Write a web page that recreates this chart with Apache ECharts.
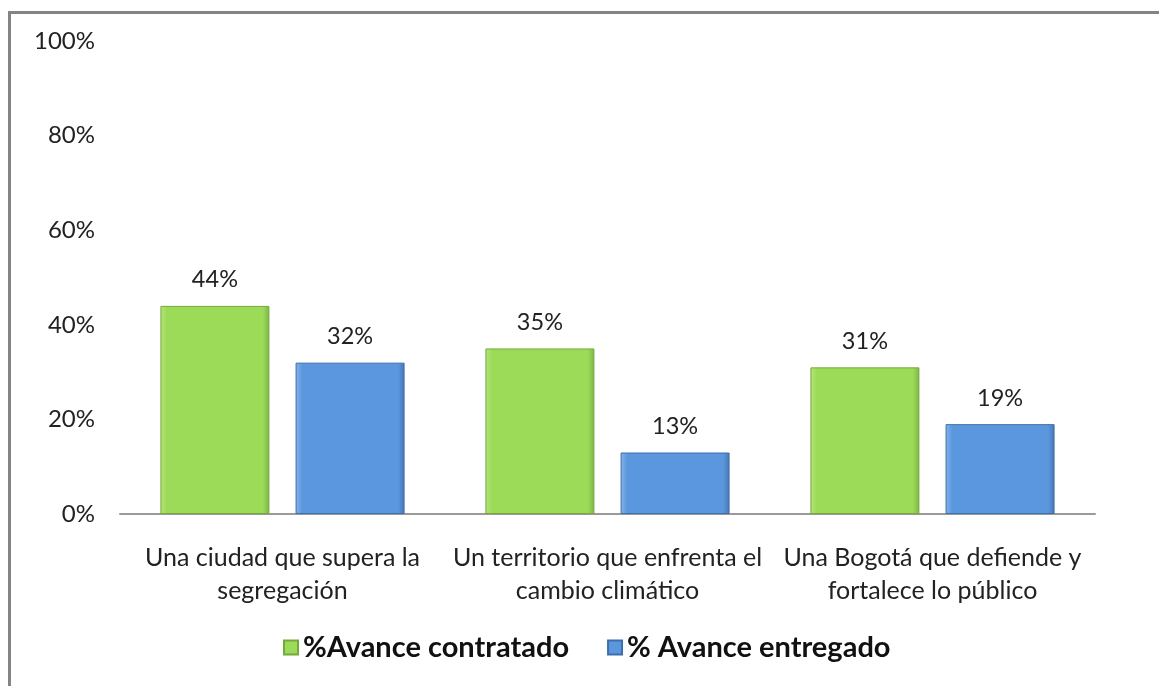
<!DOCTYPE html>
<html><head><meta charset="utf-8">
<script src="https://cdn.jsdelivr.net/npm/echarts@6/dist/echarts.min.js"></script>
<style>html,body{margin:0;padding:0;background:#fff}#c{width:1159px;height:686px}</style>
</head><body><div id="c"></div>
<script>
const categories = ['Una ciudad que supera la\nsegregación', 'Un territorio que enfrenta el\ncambio climático', 'Una Bogotá que defiende y\nfortalece lo público'];
const seriesNames = ['%Avance contratado', '% Avance entregado'];
const contratado = [44, 35, 31];
const entregado = [32, 13, 19];
const yTicks = [0, 20, 40, 60, 80, 100];

const FONT = 'Lato';
const chart = echarts.init(document.getElementById('c'));
function grad(light, mid, dark) {
  return new echarts.graphic.LinearGradient(0, 0, 1, 0, [
    {offset: 0, color: light}, {offset: 0.06, color: mid}, {offset: 0.94, color: mid}, {offset: 1, color: dark}
  ]);
}
chart.setOption({
  animation: false,
  graphic: [
    {type: 'rect', shape: {x: 8, y: 11, width: 1151, height: 3}, style: {fill: '#848484'}},
    {type: 'rect', shape: {x: 8, y: 11, width: 3, height: 675}, style: {fill: '#848484'}}
  ],
  legend: {
    data: seriesNames, bottom: 19, left: 278, itemWidth: 14, itemHeight: 14, itemGap: 38, icon: 'rect',
    textStyle: {fontFamily: FONT, fontWeight: 'bold', fontSize: 29, color: '#111', padding: [0, 0, 0, 0]}
  },
  grid: {left: 120, right: 64, top: 41, bottom: 172},
  xAxis: {
    type: 'category', data: categories,
    axisLine: {lineStyle: {color: '#9a9a9a', width: 2}},
    axisTick: {show: false},
    axisLabel: {fontFamily: FONT, fontSize: 25, color: '#222', lineHeight: 33, margin: 27, interval: 0}
  },
  yAxis: {
    type: 'value', min: 0, max: 100, interval: 20,
    splitLine: {show: false}, axisLine: {show: false}, axisTick: {show: false},
    axisLabel: {fontFamily: FONT, fontSize: 24, color: '#222', margin: 25, formatter: v => yTicks.includes(v) ? v + '%' : ''}
  },
  series: [
    {name: seriesNames[0], type: 'bar', data: contratado, barWidth: 109, barGap: '24%',
     itemStyle: {color: grad('#b5e57f', '#9bdb57', '#7db548'), borderColor: '#76a83c', borderWidth: 1},
     label: {show: true, position: 'top', distance: 14, formatter: '{c}%', fontFamily: FONT, fontSize: 23.5, color: '#222'}},
    {name: seriesNames[1], type: 'bar', data: entregado, barWidth: 109,
     itemStyle: {color: grad('#86b5ea', '#5b97de', '#4677b5'), borderColor: '#3f6fa8', borderWidth: 1},
     label: {show: true, position: 'top', distance: 14, formatter: '{c}%', fontFamily: FONT, fontSize: 23.5, color: '#222'}}
  ]
});
</script></body></html>
